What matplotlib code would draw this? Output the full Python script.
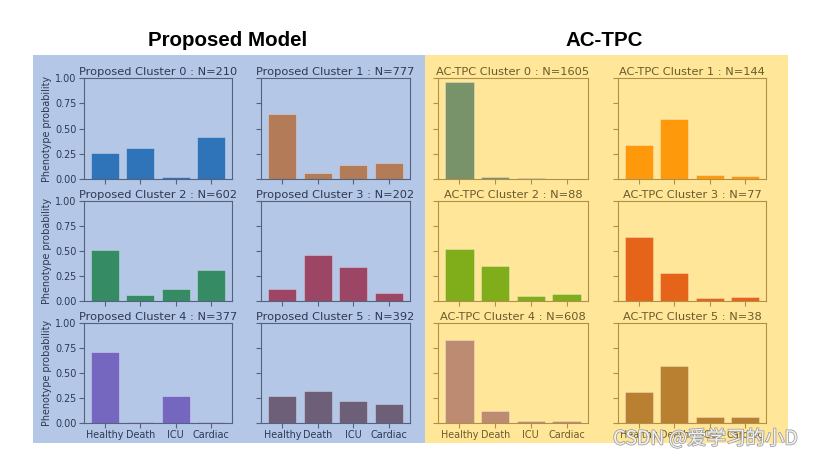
import matplotlib
matplotlib.use("Agg")
import matplotlib.pyplot as plt
from matplotlib.patches import Rectangle
import matplotlib.patheffects as pe

W, H = 814, 458

categories = ["Healthy", "Death", "ICU", "Cardiac"]

proposed_titles = ["Proposed Cluster 0 : N=210", "Proposed Cluster 1 : N=777",
                   "Proposed Cluster 2 : N=602", "Proposed Cluster 3 : N=202",
                   "Proposed Cluster 4 : N=377", "Proposed Cluster 5 : N=392"]
proposed_values = [
    [0.254, 0.307, 0.023, 0.416],
    [0.647, 0.058, 0.135, 0.158],
    [0.512, 0.056, 0.123, 0.306],
    [0.120, 0.462, 0.339, 0.076],
    [0.712, 0.013, 0.275, 0.013],
    [0.275, 0.320, 0.225, 0.189],
]
proposed_colors = ["#2f73b9", "#b37b57", "#358b64", "#9c4565", "#7567c0", "#6e5f78"]

actpc_titles = ["AC-TPC Cluster 0 : N=1605", "AC-TPC Cluster 1 : N=144",
                "AC-TPC Cluster 2 : N=88", "AC-TPC Cluster 3 : N=77",
                "AC-TPC Cluster 4 : N=608", "AC-TPC Cluster 5 : N=38"]
actpc_values = [
    [0.960, 0.020, 0.013, 0.003],
    [0.340, 0.590, 0.043, 0.033],
    [0.525, 0.350, 0.046, 0.066],
    [0.644, 0.280, 0.026, 0.036],
    [0.830, 0.120, 0.023, 0.020],
    [0.310, 0.574, 0.056, 0.056],
]
actpc_colors = ["#78926a", "#ff990c", "#80ad1a", "#e5641a", "#bd8a72", "#b98031"]

yticks = [0.0, 0.25, 0.5, 0.75, 1.0]
ytick_labels = ["0.00", "0.25", "0.50", "0.75", "1.00"]

fig = plt.figure(figsize=(W / 100, H / 100), dpi=100)
fig.patch.set_facecolor("white")

def fx(px):
    return px / W

def fy(py):
    return 1 - py / H

# panel backgrounds
fig.patches.append(Rectangle((fx(33), fy(443)), fx(425) - fx(33), fy(55) - fy(443),
                             transform=fig.transFigure, facecolor="#b4c7e7", edgecolor="none", zorder=-5))
fig.patches.append(Rectangle((fx(425), fy(443)), fx(788) - fx(425), fy(55) - fy(443),
                             transform=fig.transFigure, facecolor="#ffe699", edgecolor="none", zorder=-5))

fig.text(fx(228), fy(41), "Proposed Model", ha="center", va="center",
         fontsize=14.8, fontweight="bold", family="Liberation Sans")
fig.text(fx(604), fy(41), "AC-TPC", ha="center", va="center",
         fontsize=14.8, fontweight="bold", family="Liberation Sans")

col_x = [(84, 232), (261, 410), (438, 588), (618, 766)]
row_y = [(78, 179), (201, 301), (323, 423)]

def draw(ax, vals, color, title, textc, spinec, left_labels, bottom_labels, ylabel):
    ax.set_facecolor("none")
    ax.bar(range(len(categories)), vals, width=0.8, color=color,
           edgecolor=(1, 1, 1, 0.3), linewidth=0.7)
    ax.set_ylim(0, 1.0)
    ax.set_xlim(-0.6, 3.6)
    ax.set_yticks(yticks)
    ax.set_xticks(range(len(categories)))
    if left_labels:
        ax.set_yticklabels(ytick_labels)
    else:
        ax.set_yticklabels([])
    if bottom_labels:
        ax.set_xticklabels(categories)
    else:
        ax.set_xticklabels([])
    ax.tick_params(labelsize=6.9, colors=spinec, labelcolor=textc, length=3.5, width=0.8, pad=1.8)
    for s in ax.spines.values():
        s.set_color(spinec)
        s.set_linewidth(0.8)
    ax.set_title(title, fontsize=8.2, color=textc, pad=2.5)
    if ylabel:
        ax.set_ylabel("Phenotype probability", fontsize=6.9, color=textc, labelpad=2)

for i in range(6):
    r, c = divmod(i, 2)
    x0, x1 = col_x[c]
    y0, y1 = row_y[r]
    ax = fig.add_axes([fx(x0), fy(y1), fx(x1) - fx(x0), fy(y0) - fy(y1)])
    draw(ax, proposed_values[i], proposed_colors[i], proposed_titles[i],
         "#2e3852", "#55627e", c == 0, r == 2, c == 0)

for i in range(6):
    r, c = divmod(i, 2)
    x0, x1 = col_x[c + 2]
    y0, y1 = row_y[r]
    ax = fig.add_axes([fx(x0), fy(y1), fx(x1) - fx(x0), fy(y0) - fy(y1)])
    draw(ax, actpc_values[i], actpc_colors[i], actpc_titles[i],
         "#6b5a2b", "#b09048", False, r == 2, False)

fig.text(fx(613), fy(439), "CSDN @爱学习的小D", ha="left", va="center", fontsize=14,
         color="#f2f2f2", family=["Noto Sans CJK SC", "DejaVu Sans"],
         path_effects=[pe.withStroke(linewidth=1.1, foreground="#9a9a9a")])

fig.savefig("out.png", dpi=100)
